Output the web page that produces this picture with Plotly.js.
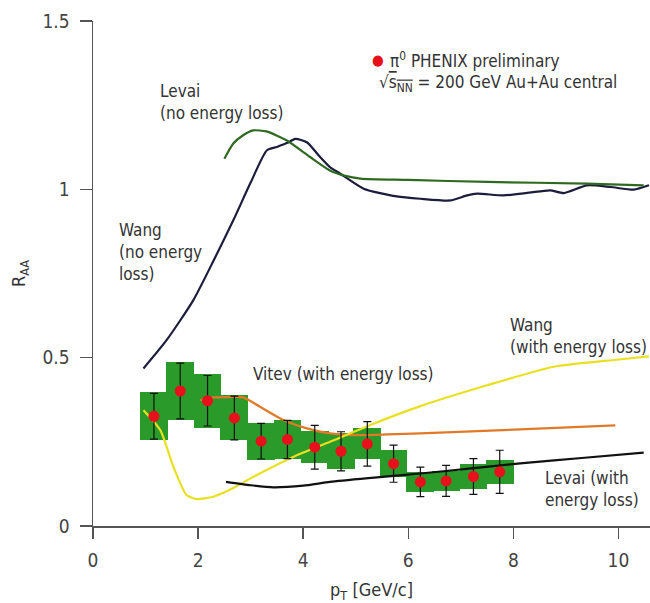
<!DOCTYPE html>
<html>
<head>
<meta charset="utf-8">
<script src="https://cdn.plot.ly/plotly-3.0.1.min.js"></script>
<style>html,body{margin:0;padding:0;background:#fff;}#chart{width:650px;height:603px;}</style>
</head>
<body>
<div id="chart"></div>
<script>
// PHENIX pi0 data
var ptData   = [1.16, 1.66, 2.18, 2.69, 3.20, 3.70, 4.22, 4.72, 5.22, 5.72, 6.23, 6.72, 7.24, 7.74];
var raaData  = [0.326, 0.401, 0.372, 0.321, 0.252, 0.257, 0.234, 0.222, 0.244, 0.185, 0.131, 0.134, 0.147, 0.161];
var statErr  = [0.068, 0.083, 0.075, 0.065, 0.053, 0.057, 0.065, 0.058, 0.066, 0.055, 0.044, 0.046, 0.053, 0.064];
var sysErr   = [0.071, 0.087, 0.080, 0.067, 0.055, 0.057, 0.048, 0.054, 0.046, 0.040, 0.029, 0.029, 0.038, 0.035];

// Wang (no energy loss)
var wangNoX = [0.96, 1.40, 1.91, 2.30, 2.67, 3.00, 3.31, 3.50, 3.70, 3.85, 4.07, 4.30, 4.51, 4.70, 5.15, 5.78, 6.23, 6.80, 7.12, 7.31, 7.81, 8.30, 8.70, 8.96, 9.40, 9.85, 10.29, 10.58];
var wangNoY = [0.468, 0.552, 0.671, 0.790, 0.908, 1.020, 1.116, 1.126, 1.138, 1.150, 1.140, 1.100, 1.066, 1.047, 1.002, 0.979, 0.972, 0.967, 0.982, 0.987, 0.982, 0.990, 0.997, 0.989, 1.012, 1.007, 0.999, 1.012];

// Levai (no energy loss)
var levaiNoX = [2.50, 2.67, 2.85, 3.05, 3.30, 3.69, 4.13, 4.51, 4.80, 5.09, 6.00, 7.50, 9.40, 10.48];
var levaiNoY = [1.091, 1.136, 1.160, 1.175, 1.172, 1.145, 1.096, 1.056, 1.040, 1.032, 1.028, 1.022, 1.017, 1.012];

// Vitev (with energy loss)
var vitevX = [2.04, 2.29, 2.60, 2.86, 3.18, 3.62, 4.07, 4.51, 4.96, 5.60, 6.23, 7.20, 8.13, 9.94];
var vitevY = [0.374, 0.382, 0.383, 0.382, 0.354, 0.315, 0.290, 0.275, 0.270, 0.272, 0.275, 0.281, 0.287, 0.299];

// Wang (with energy loss)
var wangElX = [0.96, 1.28, 1.53, 1.78, 1.97, 2.29, 2.70, 3.05, 3.82, 4.51, 5.28, 6.23, 7.50, 8.77, 9.91, 10.58];
var wangElY = [0.344, 0.285, 0.176, 0.092, 0.080, 0.087, 0.115, 0.146, 0.206, 0.250, 0.300, 0.356, 0.418, 0.473, 0.493, 0.504];

// Levai (with energy loss)
var levaiElX = [2.53, 3.00, 3.43, 4.00, 4.51, 5.30, 6.23, 7.20, 8.13, 9.30, 10.48];
var levaiElY = [0.131, 0.121, 0.115, 0.120, 0.131, 0.143, 0.156, 0.171, 0.186, 0.202, 0.218];

var xTicks = [0, 2, 4, 6, 8, 10];
var xTickText = ['0', '2', '4', '6', '8', '10'];
var yTicks = [0, 0.5, 1, 1.5];
var yTickText = ['0', '0.5', '1', '1.5'];

var FONT = '"DejaVu Sans Condensed", "Liberation Sans Narrow", "Roboto", sans-serif';

var sysBase = raaData.map(function (v, i) { return v - sysErr[i]; });
var sysHeight = sysErr.map(function (s) { return 2 * s; });

var traces = [
  { type: 'bar', x: ptData, y: sysHeight, base: sysBase, width: 0.53,
    marker: { color: '#2a9a2a', line: { width: 0 } }, hoverinfo: 'skip', showlegend: false },
  { type: 'scatter', mode: 'lines', x: wangNoX, y: wangNoY, line: { color: '#1c1c3c', width: 2.2, shape: 'spline', smoothing: 0.6 }, showlegend: false },
  { type: 'scatter', mode: 'lines', x: levaiNoX, y: levaiNoY, line: { color: '#2f6a20', width: 2.2, shape: 'spline', smoothing: 0.6 }, showlegend: false },
  { type: 'scatter', mode: 'lines', x: vitevX, y: vitevY, line: { color: '#e07a28', width: 2.2, shape: 'spline', smoothing: 0.6 }, showlegend: false },
  { type: 'scatter', mode: 'lines', x: wangElX, y: wangElY, line: { color: '#e8e020', width: 2.2, shape: 'spline', smoothing: 0.6 }, showlegend: false },
  { type: 'scatter', mode: 'lines', x: levaiElX, y: levaiElY, line: { color: '#111111', width: 2.2, shape: 'spline', smoothing: 0.6 }, showlegend: false },
  { type: 'scatter', mode: 'markers', x: ptData, y: raaData,
    error_y: { type: 'data', array: statErr, visible: true, color: '#111', thickness: 1.2, width: 4 },
    marker: { color: '#e8101a', size: 11 }, showlegend: false }
];

var txtFont = { family: FONT, size: 17, color: '#333' };

var layout = {
  width: 650, height: 603,
  margin: { l: 93, r: 0, t: 21, b: 77 },
  paper_bgcolor: '#fff', plot_bgcolor: '#fff',
  showlegend: false,
  bargap: 0,
  xaxis: {
    range: [0, 10.6], showgrid: false, zeroline: false,
    showline: true, linecolor: '#555', linewidth: 1.5,
    ticks: 'outside', ticklen: 11, tickcolor: '#555', tickwidth: 1.5,
    tickvals: xTicks, ticktext: xTickText,
    ticklabelstandoff: 6,
    tickfont: { family: FONT, size: 19, color: '#444' },
    title: { text: 'p<sub>T</sub> [GeV/c]', font: { family: FONT, size: 18, color: '#333' }, standoff: 18 }
  },
  yaxis: {
    range: [0, 1.5], showgrid: false, zeroline: false,
    showline: true, linecolor: '#555', linewidth: 1.5,
    ticks: 'outside', ticklen: 12, tickcolor: '#555', tickwidth: 1.5,
    tickvals: yTicks, ticktext: yTickText,
    ticklabelstandoff: 6,
    tickfont: { family: FONT, size: 19, color: '#444' },
    title: { text: 'R<sub>AA</sub>', font: { family: FONT, size: 18, color: '#333' }, standoff: 12 }
  },
  annotations: [
    { xref: 'x', yref: 'y', x: 1.24, y: 1.329, xanchor: 'left', yanchor: 'top', align: 'left', showarrow: false,
      text: 'Levai<br>(no energy loss)', font: txtFont },
    { xref: 'x', yref: 'y', x: 0.457, y: 0.914, xanchor: 'left', yanchor: 'top', align: 'left', showarrow: false,
      text: 'Wang<br>(no energy<br>loss)', font: txtFont },
    { xref: 'x', yref: 'y', x: 3.0, y: 0.451, xanchor: 'left', yanchor: 'middle', align: 'left', showarrow: false,
      text: 'Vitev (with energy loss)', font: txtFont },
    { xref: 'x', yref: 'y', x: 7.90, y: 0.632, xanchor: 'left', yanchor: 'top', align: 'left', showarrow: false,
      text: 'Wang<br>(with energy loss)', font: txtFont },
    { xref: 'x', yref: 'y', x: 8.57, y: 0.179, xanchor: 'left', yanchor: 'top', align: 'left', showarrow: false,
      text: 'Levai (with<br>energy loss)', font: txtFont },
    { xref: 'x', yref: 'y', x: 5.43, y: 1.383, xanchor: 'center', yanchor: 'middle', showarrow: false,
      text: '●', font: { family: FONT, size: 15, color: '#e8101a' } },
    { xref: 'x', yref: 'y', x: 5.62, y: 1.383, xanchor: 'left', yanchor: 'middle', align: 'left', showarrow: false,
      text: 'π<sup>0</sup> PHENIX preliminary', font: txtFont },
    { xref: 'x', yref: 'y', x: 5.40, y: 1.313, xanchor: 'left', yanchor: 'middle', align: 'left', showarrow: false,
      text: '√<span style="text-decoration:overline">s<sub>NN</sub></span> = 200 GeV Au+Au central', font: txtFont }
  ]
};

Plotly.newPlot('chart', traces, layout, { displayModeBar: false, staticPlot: true });
</script>
</body>
</html>
